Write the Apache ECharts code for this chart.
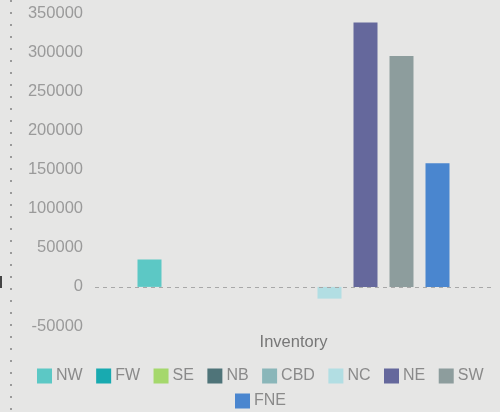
<!DOCTYPE html>
<html>
<head>
<meta charset="utf-8">
<script src="https://cdn.jsdelivr.net/npm/echarts@6/dist/echarts.min.js"></script>
<style>
  html, body { margin: 0; padding: 0; background: #e6e6e5; }
  #chart { width: 500px; height: 412px; }
</style>
</head>
<body>
<div id="chart"></div>
<script>
// Inventory by region
const categories = ['Inventory'];
const regions = ['NW', 'FW', 'SE', 'NB', 'CBD', 'NC', 'NE', 'SW', 'FNE'];
const inventory = [35000, 0, 0, 0, 0, -15000, 338000, 295000, 158000];
const regionColors = ['#5cc8c5', '#18aab0', '#a5d86c', '#4f7479', '#8ab6b9', '#b2dee3', '#65689c', '#8d9d9d', '#4a86cf'];
const yTicks = { min: -50000, max: 350000, interval: 50000 };

const chart = echarts.init(document.getElementById('chart'), null, { renderer: 'canvas' });

const series = regions.map((name, i) => ({
  name: name,
  type: 'bar',
  barWidth: 24,
  barGap: '50%',
  itemStyle: { color: regionColors[i] },
  data: [inventory[i]],
  markLine: i === 0 ? {
    silent: true,
    symbol: 'none',
    label: { show: false },
    lineStyle: { color: '#a8a8a8', type: [4, 4], width: 1 },
    data: [{ yAxis: 0 }]
  } : undefined
}));

// Legend laid out in two rows
const legendBase = {
  itemWidth: 15,
  itemHeight: 15,
  itemGap: 13.5,
  icon: 'rect',
  textStyle: { color: '#8a8a8a', fontSize: 16, padding: [0, 0, 0, -1] }
};

chart.setOption({
  backgroundColor: '#e6e6e5',
  animation: false,
  textStyle: { fontFamily: 'Liberation Sans, Arial, sans-serif' },
  grid: { left: 95, right: 8, top: 13, bottom: 86, containLabel: false },
  legend: [
    Object.assign({}, legendBase, { data: regions.slice(0, 8), left: 32, top: 363 }),
    Object.assign({}, legendBase, { data: regions.slice(8), left: 230, top: 388 })
  ],
  xAxis: {
    type: 'category',
    data: categories,
    axisLine: { show: false, onZero: false },
    axisTick: { show: false },
    axisLabel: { color: '#777777', fontSize: 16.5, margin: 8 }
  },
  yAxis: {
    type: 'value',
    min: yTicks.min,
    max: yTicks.max,
    interval: yTicks.interval,
    axisLine: { show: false },
    axisTick: { show: false },
    splitLine: { show: false },
    axisLabel: {
      color: '#9a9a9a',
      fontSize: 16.5,
      margin: 12,
      formatter: (v) => String(v)
    }
  },
  graphic: [
    {
      type: 'line',
      shape: { x1: 11, y1: 0, x2: 11, y2: 412 },
      style: { stroke: '#9a9a9a', lineWidth: 2, lineDash: [2, 10] },
      silent: true
    },
    {
      type: 'rect',
      shape: { x: 0, y: 276, width: 2, height: 12 },
      style: { fill: '#444444' },
      silent: true
    }
  ],
  series: series
});
</script>
</body>
</html>
